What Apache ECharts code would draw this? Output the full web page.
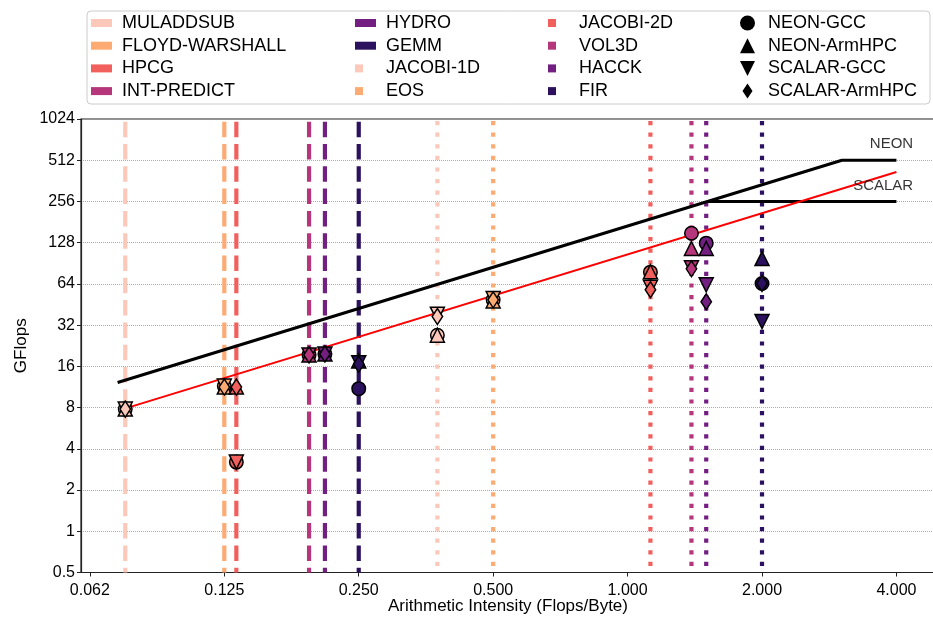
<!DOCTYPE html>
<html><head><meta charset="utf-8">
<script src="https://cdn.jsdelivr.net/npm/echarts@6/dist/echarts.min.js"></script>
<style>html,body{margin:0;padding:0;background:#fff}#c{width:933px;height:617px}</style>
</head><body><div id="c"></div>
<script>
// ---- data ----
const benchmarks = ['MULADDSUB','FLOYD-WARSHALL','HPCG','INT-PREDICT','HYDRO','GEMM',
                    'JACOBI-1D','EOS','JACOBI-2D','VOL3D','HACCK','FIR'];
const intensity  = [0.075, 0.125, 0.133, 0.1935, 0.21, 0.25, 0.375, 0.5, 1.125, 1.39, 1.5, 2.0];
const benchColors = ['#fcc8ba','#fdaa73','#f1605d','#b5367a','#721f81','#2c115f',
                     '#fcc8ba','#fdaa73','#f1605d','#b5367a','#721f81','#2c115f'];
const lineKinds = ['dashed','dashed','dashed','dashed','dashed','dashed',
                   'dotted','dotted','dotted','dotted','dotted','dotted'];

const variants = ['NEON-GCC','NEON-ArmHPC','SCALAR-GCC','SCALAR-ArmHPC'];
const neonGcc      = [7.8, 11.5, 3.2, 19.4, 19.7, 11.0, 27.0, 49.0, 78.0, 150.0, 127.0, 64.5];
const neonArmhpc   = [7.8, 11.3, 11.3, 19.4, 19.7, 17.5, 27.0, 48.0, 78.5, 116.0, 116.0, 98.0];
const scalarGcc    = [7.8, 11.5, 3.2, 19.4, 19.7, 17.0, 38.5, 50.0, 60.5, 84.0, 63.0, 34.0];
const scalarArmhpc = [7.8, 11.3, 11.3, 19.4, 19.7, 16.6, 37.0, 49.0, 58.0, 82.5, 47.4, 64.5];

const neonRoofX   = [0.0721, 3.02, 4.0];
const neonRoofY   = [12.2, 512, 512];
const scalarRoofX = [0.0754, 4.0];
const scalarRoofY = [7.93, 420];
const scalarPeakX = [1.51, 4.0];
const scalarPeakY = [256, 256];
const roofLabels  = ['NEON', 'SCALAR'];
const roofLabelX  = [4.36, 4.36];
const roofLabelY  = [673, 332];

const xTickValues = [0.0625, 0.125, 0.25, 0.5, 1, 2, 4];
const xTickLabels = ['0.062','0.125','0.250','0.500','1.000','2.000','4.000'];
const yTickValues = [0.5, 1, 2, 4, 8, 16, 32, 64, 128, 256, 512, 1024];
const yTickLabels = ['0.5','1','2','4','8','16','32','64','128','256','512','1024'];
const xRange = [0.0597, 4.88];
const yRange = [0.5, 1024];

// ---- build chart ----
const L = Math.log2;
const FONT = '"Liberation Sans", Arial, Helvetica, sans-serif';
function lookup(vals, labels, v) {
  for (let i = 0; i < vals.length; i++) if (Math.abs(L(vals[i]) - v) < 1e-6) return labels[i];
  return '';
}

const series = [];
benchmarks.forEach((b, i) => {
  const dashed = lineKinds[i] === 'dashed';
  series.push({
    type: 'line', name: b, silent: true, symbol: 'none', z: 1,
    data: [[L(intensity[i]), L(yRange[1])], [L(intensity[i]), L(yRange[0])]],
    lineStyle: { color: benchColors[i], width: 4.2, cap: 'butt',
                 type: dashed ? [15.5, 6.8] : [4.2, 7.4], dashOffset: dashed ? -2.7 : -2 },
    itemStyle: { color: benchColors[i] }
  });
});
series.push({ type: 'line', name: 'neonRoof', silent: true, symbol: 'none', z: 2,
  data: neonRoofX.map((x, i) => [L(x), L(neonRoofY[i])]),
  lineStyle: { color: '#000', width: 3 } });
series.push({ type: 'line', name: 'scalarPeak', silent: true, symbol: 'none', z: 2,
  data: scalarPeakX.map((x, i) => [L(x), L(scalarPeakY[i])]),
  lineStyle: { color: '#000', width: 3 } });
series.push({ type: 'line', name: 'scalarRoof', silent: true, symbol: 'none', z: 2,
  data: scalarRoofX.map((x, i) => [L(x), L(scalarRoofY[i])]),
  lineStyle: { color: '#ff0000', width: 2 } });
series.push({ type: 'scatter', name: 'roofLabels', silent: true, symbolSize: 0, z: 2,
  data: roofLabels.map((n, i) => ({ name: n, value: [L(roofLabelX[i]), L(roofLabelY[i])] })),
  label: { show: true, position: 'left', distance: 0, formatter: p => p.name,
           fontFamily: FONT, fontSize: 15, color: '#000' } });

const triUp = 'path://M1,0L2,2L0,2Z';
const triDown = 'path://M0,0L2,0L1,2Z';
const thinDiamond = 'path://M5,0L10,7.5L5,15L0,7.5Z';
const markerDefs = [
  { name: variants[0], vals: neonGcc, symbol: 'circle', size: 13.5, rot: 0 },
  { name: variants[1], vals: neonArmhpc, symbol: 'triangle', size: 14, rot: 0 },
  { name: variants[2], vals: scalarGcc, symbol: 'triangle', size: 14, rot: 180 },
  { name: variants[3], vals: scalarArmhpc, symbol: 'diamond', size: [10.5, 16], rot: 0 }
];
markerDefs.forEach(m => {
  series.push({
    type: 'scatter', name: m.name, silent: true, z: 3,
    symbol: m.symbol, symbolSize: m.size, symbolRotate: m.rot,
    itemStyle: { color: '#000', borderColor: '#000', borderWidth: 1.5, opacity: 1 },
    data: m.vals.map((v, i) => ({ value: [L(intensity[i]), L(v)],
                                  itemStyle: { color: benchColors[i] } }))
  });
});

const legendBase = {
  orient: 'vertical', top: 13, padding: 0, itemGap: 2.7, selectedMode: false,
  itemWidth: 21, itemHeight: 8, symbolKeepAspect: true, z: 10,
  itemStyle: { borderWidth: 0 },
  textStyle: { fontFamily: FONT, fontSize: 18, lineHeight: 20, color: '#000', padding: [0, 0, 0, 5] }
};
const sq = 'path://M0,0h8v8h-8z M21,4L21,4';
function legItems(idx) {
  return idx.map(i => ({ name: benchmarks[i], icon: lineKinds[i] === 'dashed' ? 'rect' : sq }));
}
const legends = [
  Object.assign({}, legendBase, { left: 91, data: legItems([0,1,2,3]) }),
  Object.assign({}, legendBase, { left: 355, data: legItems([4,5,6,7]) }),
  Object.assign({}, legendBase, { left: 548, data: legItems([8,9,10,11]) }),
  Object.assign({}, legendBase, { left: 740, itemHeight: 15, top: 13,
    data: [ { name: variants[0], icon: 'circle' }, { name: variants[1], icon: triUp },
            { name: variants[2], icon: triDown }, { name: variants[3], icon: thinDiamond } ] })
];

const chart = echarts.init(document.getElementById('c'), null, { renderer: 'canvas' });
chart.setOption({
  animation: false,
  backgroundColor: '#fff',
  textStyle: { fontFamily: FONT },
  graphic: [{ type: 'rect', z: 0, silent: true,
    shape: { x: 87, y: 11, width: 843, height: 93, r: 4 },
    style: { fill: '#fff', stroke: '#cccccc', lineWidth: 1 } }],
  legend: legends,
  grid: { left: 81, right: -2, top: 119, bottom: 44.5, show: true, outerBoundsMode: 'none',
          containLabel: false,
          borderColor: '#222', borderWidth: 1.2, backgroundColor: 'transparent' },
  xAxis: {
    type: 'value', min: L(xRange[0]), max: L(xRange[1]),
    name: 'Arithmetic Intensity (Flops/Byte)', nameLocation: 'middle', nameGap: 25,
    nameMoveOverlap: false,
    nameTextStyle: { fontFamily: FONT, fontSize: 17, color: '#000' },
    axisLine: { show: true, onZero: false, lineStyle: { color: '#222', width: 1.2 } },
    axisTick: { show: true, length: 4, lineStyle: { color: '#222' }, customValues: xTickValues.map(L) },
    axisLabel: { show: true, margin: 10, fontFamily: FONT, fontSize: 16, color: '#000',
                 customValues: xTickValues.map(L),
                 formatter: v => lookup(xTickValues, xTickLabels, v) },
    splitLine: { show: false }
  },
  yAxis: {
    type: 'value', min: L(yRange[0]), max: L(yRange[1]), interval: 1,
    name: 'GFlops', nameLocation: 'middle', nameGap: 51, nameRotate: 90,
    nameMoveOverlap: false,
    nameTextStyle: { fontFamily: FONT, fontSize: 17, color: '#000' },
    axisLine: { show: true, onZero: false, lineStyle: { color: '#222', width: 1.2 } },
    axisTick: { show: true, length: 4, lineStyle: { color: '#222' } },
    axisLabel: { show: true, margin: 6, fontFamily: FONT, fontSize: 16, color: '#000',
                 formatter: v => lookup(yTickValues, yTickLabels, v) },
    splitLine: { show: true, lineStyle: { color: '#999', width: 0.8, type: [1, 1] } }
  },
  series: series
});
</script></body></html>
